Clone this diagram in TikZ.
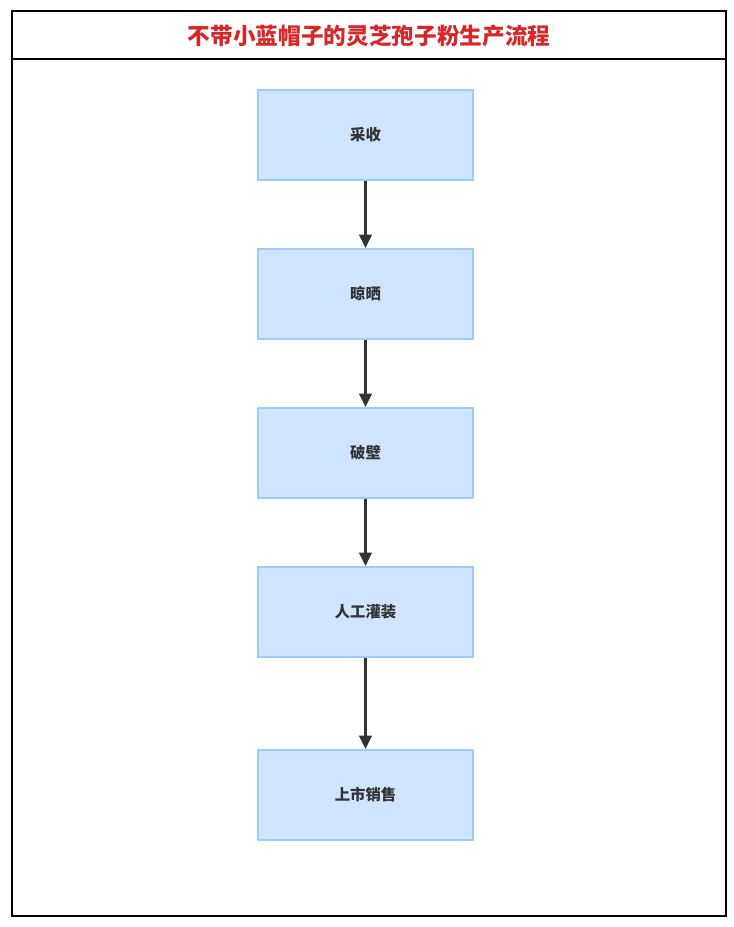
\documentclass[tikz,border=0pt]{standalone}
\usepackage{fontspec}
\newfontfamily\cjk{Noto Sans CJK SC}
\usetikzlibrary{arrows.meta}
\definecolor{stepfill}{RGB}{207,228,255}
\definecolor{stepline}{RGB}{153,204,255}
\definecolor{titlered}{RGB}{214,40,40}
\definecolor{ink}{RGB}{51,51,51}
\tikzset{
  stepbox/.style={draw=stepline, fill=stepfill, line width=1.5pt,
    minimum width=215*0.75pt, minimum height=90*0.75pt, inner sep=0pt,
    font=\cjk\bfseries\fontsize{11.5}{13}\selectfont, text=ink},
  flow/.style={-{Triangle[length=10pt,width=9.5pt]}, ink, line width=1.6pt}
}
\begin{document}
\begin{tikzpicture}[x=0.75pt, y=-0.75pt]
    \useasboundingbox (0,0) rectangle (734,927);
    % Frame and title bar
    \draw[line width=1.6pt] (12,11) rectangle (726,916);
    \draw[line width=1.6pt] (12,59) -- (726,59);
    \node[font=\cjk\bfseries\fontsize{17}{20}\selectfont, text=titlered] (title) at (369,36) {不带小蓝帽子的灵芝孢子粉生产流程};

    % Steps
    \node[stepbox] (harvest) at (365.5,135) {采收};
    \node[stepbox] (dry)     at (365.5,294) {晾晒};
    \node[stepbox] (crack)   at (365.5,453) {破壁};
    \node[stepbox] (fill)    at (365.5,612) {人工灌装};
    \node[stepbox] (sell)    at (365.5,795) {上市销售};

    % Flow
    \draw[flow] (harvest) -- (dry);
    \draw[flow] (dry) -- (crack);
    \draw[flow] (crack) -- (fill);
    \draw[flow] (fill) -- (sell);
\end{tikzpicture}
\end{document}
